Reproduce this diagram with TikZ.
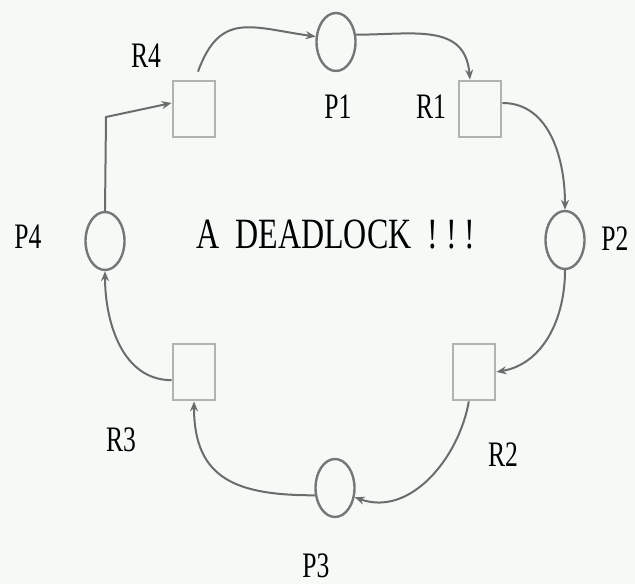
\documentclass[tikz,border=0pt]{standalone}
\usepackage{fontspec}
\usepackage{graphicx}
\setmainfont{Liberation Serif}
\usetikzlibrary{arrows.meta,shapes.geometric}

\definecolor{paper}{HTML}{F6FAF7}
\definecolor{boxline}{HTML}{B0B4AC}
\definecolor{ringline}{HTML}{767676}
\definecolor{wire}{HTML}{6C6C6C}

\newcommand{\tallt}[2][1.4]{\scalebox{1}[#1]{#2}}

\begin{document}
\begin{tikzpicture}[
	x=0.5pt, y=0.5pt,
	res/.style={ draw=boxline, line width=1.4pt, minimum width=21pt, minimum height=28pt, inner sep=0pt },
	proc/.style={ ellipse, draw=ringline, line width=1.2pt, minimum width=19.5pt, minimum height=29pt, inner sep=0pt },
	lbl/.style={ font=\fontsize{12.8}{13}\selectfont, inner sep=0pt },
	wait/.style={ draw=wire, line width=1pt, -{Stealth[length=5pt,width=4pt]} }
]

\fill[paper] (0,0) rectangle (635,584);

\node at (194,475) (R4) [res] {};
\node at (480,475) (R1) [res] {};
\node at (474,212) (R2) [res] {};
\node at (194,212) (R3) [res] {};

\node at (336,542) (P1) [proc] {};
\node at (565,344) (P2) [proc] {};
\node at (335,96) (P3) [proc] {};
\node at (105,343) (P4) [proc] {};

\node at (146,528) (tR4) [lbl] {\tallt{R4}};
\node at (338,477) (tP1) [lbl] {\tallt{P1}};
\node at (431,477) (tR1) [lbl] {\tallt{R1}};
\node at (615,345) (tP2) [lbl] {\tallt{P2}};
\node at (503,129) (tR2) [lbl] {\tallt{R2}};
\node at (121,144) (tR3) [lbl] {\tallt{R3}};
\node at (316,18) (tP3) [lbl] {\tallt{P3}};
\node at (28,347) (tP4) [lbl] {\tallt{P4}};

\node at (336,349) (msg) [font=\fontsize{16}{17}\selectfont, inner sep=0pt] {\tallt[1.35]{A~~DEADLOCK~~!~!~!}};

% the cycle of requests and holdings
\coordinate (bend) at (106,467);
\draw[wait] ([xshift=2pt,yshift=4pt]R4.north) to[out=70,in=172,looseness=1.35] (P1.165);
\draw[wait] (P1.20) to[out=0,in=95,looseness=1.2] ([xshift=-5pt]R1.north);
\draw[wait] (R1.15) to[out=0,in=90] (P2.north);
\draw[wait] (P2.south) to[out=-90,in=10] (R2.east);
\draw[wait] (R2.-100) to[out=-100,in=-20] (P3.-25);
\draw[wait] (P3.200) to[out=180,in=-90,looseness=1.3] (R3.south);
\draw[wait] (R3.200) to[out=180,in=-90] (P4.south);
\draw[wait] (P4.north) -- (bend) -- (R4.165);

\end{tikzpicture}
\end{document}
